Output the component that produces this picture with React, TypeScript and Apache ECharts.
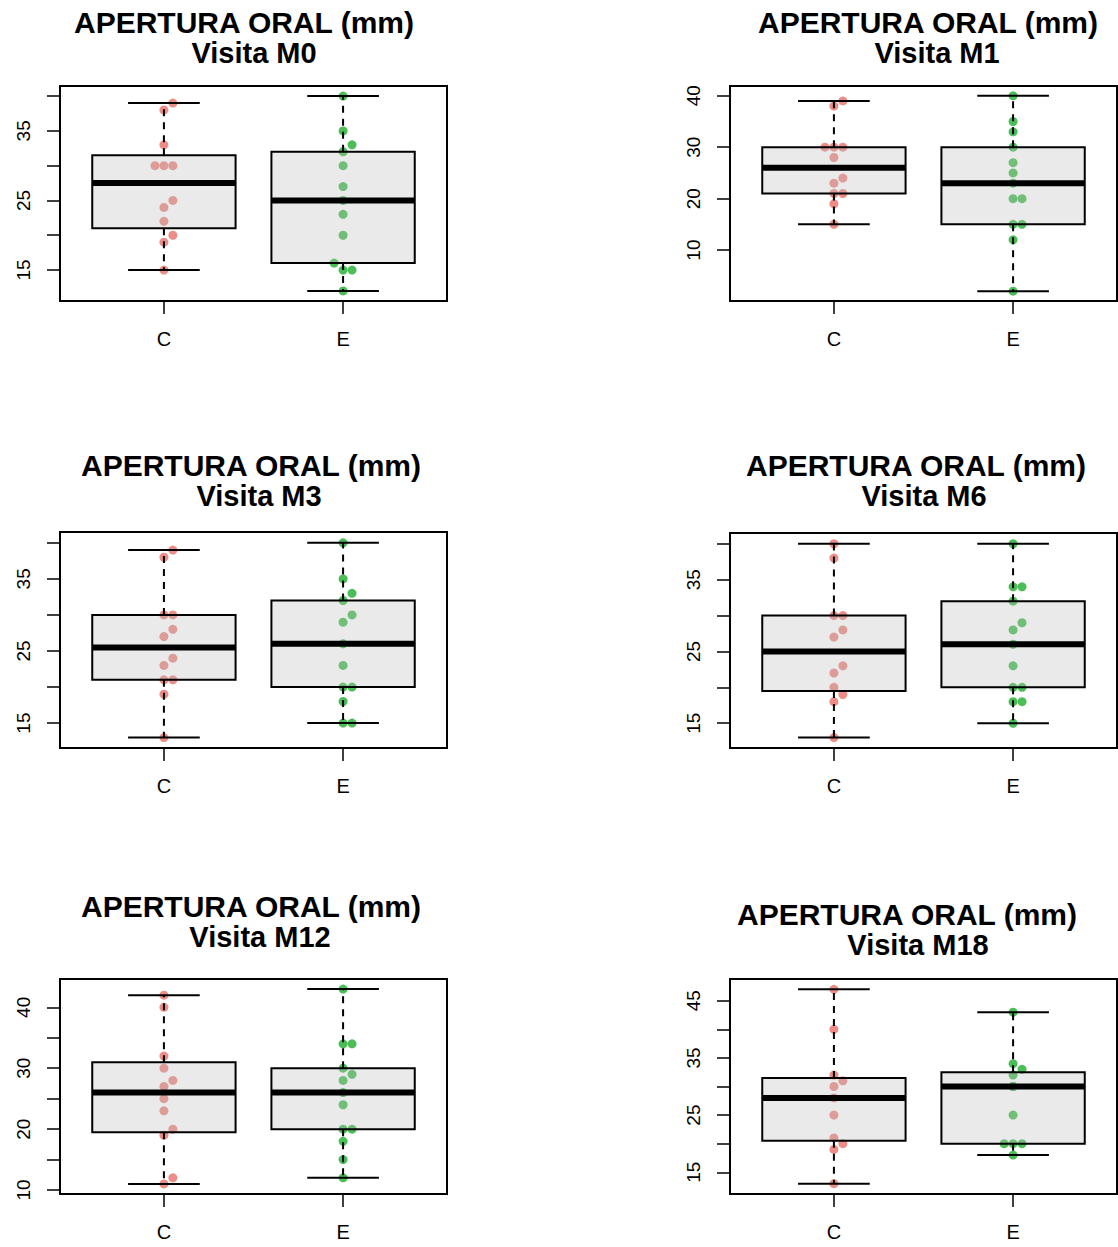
import React, { useEffect, useRef } from "react";
import * as echarts from "echarts";

// ---------- data ----------
const groups = ["C", "E"];
const visits = ["M0", "M1", "M3", "M6", "M12", "M18"];
const titleText = "APERTURA ORAL (mm)";

// individual observations (mm) and their jitter slot (-1, 0, 1)
const m0C = [39, 38, 33, 30, 30, 30, 25, 24, 22, 20, 19, 15];
const m0CJitter = [1, 0, 0, -1, 0, 1, 1, 0, 0, 1, 0, 0];
const m0E = [40, 35, 33, 32, 30, 27, 25, 23, 20, 16, 15, 15, 12];
const m0EJitter = [0, 0, 1, 0, 0, 0, 0, 0, 0, -1, 0, 1, 0];

const m1C = [39, 38, 30, 30, 30, 28, 24, 23, 21, 21, 19, 15];
const m1CJitter = [1, 0, -1, 0, 1, 0, 1, 0, 0, 1, 0, 0];
const m1E = [40, 35, 33, 30, 27, 25, 23, 20, 20, 15, 15, 12, 2];
const m1EJitter = [0, 0, 0, 0, 0, 0, 0, 0, 1, 0, 1, 0, 0];

const m3C = [39, 38, 30, 30, 28, 27, 24, 23, 21, 21, 19, 13];
const m3CJitter = [1, 0, 0, 1, 1, 0, 1, 0, 0, 1, 0, 0];
const m3E = [40, 35, 33, 32, 30, 29, 26, 23, 20, 20, 18, 15, 15];
const m3EJitter = [0, 0, 1, 0, 1, 0, 0, 0, 0, 1, 0, 0, 1];

const m6C = [40, 38, 30, 30, 28, 27, 23, 22, 20, 19, 18, 13];
const m6CJitter = [0, 0, 0, 1, 1, 0, 1, 0, 0, 1, 0, 0];
const m6E = [40, 34, 34, 32, 29, 28, 26, 23, 20, 20, 18, 18, 15];
const m6EJitter = [0, 0, 1, 0, 1, 0, 0, 0, 0, 1, 0, 1, 0];

const m12C = [42, 40, 32, 30, 28, 27, 25, 23, 20, 19, 12, 11];
const m12CJitter = [0, 0, 0, 0, 1, 0, 0, 0, 1, 0, 1, 0];
const m12E = [43, 34, 34, 30, 29, 28, 26, 24, 20, 20, 18, 15, 12];
const m12EJitter = [0, 0, 1, 0, 1, 0, 0, 0, 0, 1, 0, 0, 0];

const m18C = [47, 40, 32, 31, 30, 28, 25, 21, 20, 19, 13];
const m18CJitter = [0, 0, 0, 1, 0, 0, 0, 0, 1, 0, 0];
const m18E = [43, 34, 33, 32, 30, 30, 25, 20, 20, 20, 18];
const m18EJitter = [0, 0, 1, 0, 0, 0, 0, -1, 0, 1, 0];

// box statistics [lower whisker, Q1, median, Q3, upper whisker]
const m0BoxC = [15, 21, 27.5, 31.5, 39];
const m0BoxE = [12, 16, 25, 32, 40];
const m1BoxC = [15, 21, 26, 30, 39];
const m1BoxE = [2, 15, 23, 30, 40];
const m3BoxC = [13, 21, 25.5, 30, 39];
const m3BoxE = [15, 20, 26, 32, 40];
const m6BoxC = [13, 19.5, 25, 30, 40];
const m6BoxE = [15, 20, 26, 32, 40];
const m12BoxC = [11, 19.5, 26, 31, 42];
const m12BoxE = [12, 20, 26, 30, 43];
const m18BoxC = [13, 20.5, 28, 31.5, 47];
const m18BoxE = [18, 20, 30, 32.5, 43];

// y axis ranges, tick values and labelled ticks
const m0Range = [10.55, 41.45];
const m0Ticks = [15, 20, 25, 30, 35, 40];
const m0Labels = [15, 25, 35];
const m1Range = [0.1, 41.9];
const m1Ticks = [10, 20, 30, 40];
const m1Labels = [10, 20, 30, 40];
const m3Range = [11.55, 41.5];
const m3Ticks = [15, 20, 25, 30, 35, 40];
const m3Labels = [15, 25, 35];
const m6Range = [11.55, 41.5];
const m6Ticks = [15, 20, 25, 30, 35, 40];
const m6Labels = [15, 25, 35];
const m12Range = [9.35, 44.65];
const m12Ticks = [10, 15, 20, 25, 30, 35, 40];
const m12Labels = [10, 20, 30, 40];
const m18Range = [11.2, 48.8];
const m18Ticks = [15, 20, 25, 30, 35, 40, 45];
const m18Labels = [15, 25, 35, 45];

const panels = [
  { visit: visits[0], c: m0C, cj: m0CJitter, e: m0E, ej: m0EJitter, boxC: m0BoxC, boxE: m0BoxE, range: m0Range, ticks: m0Ticks, labels: m0Labels },
  { visit: visits[1], c: m1C, cj: m1CJitter, e: m1E, ej: m1EJitter, boxC: m1BoxC, boxE: m1BoxE, range: m1Range, ticks: m1Ticks, labels: m1Labels },
  { visit: visits[2], c: m3C, cj: m3CJitter, e: m3E, ej: m3EJitter, boxC: m3BoxC, boxE: m3BoxE, range: m3Range, ticks: m3Ticks, labels: m3Labels },
  { visit: visits[3], c: m6C, cj: m6CJitter, e: m6E, ej: m6EJitter, boxC: m6BoxC, boxE: m6BoxE, range: m6Range, ticks: m6Ticks, labels: m6Labels },
  { visit: visits[4], c: m12C, cj: m12CJitter, e: m12E, ej: m12EJitter, boxC: m12BoxC, boxE: m12BoxE, range: m12Range, ticks: m12Ticks, labels: m12Labels },
  { visit: visits[5], c: m18C, cj: m18CJitter, e: m18E, ej: m18EJitter, boxC: m18BoxC, boxE: m18BoxE, range: m18Range, ticks: m18Ticks, labels: m18Labels },
];

// ---------- layout / style ----------
const layout = [
  { left: 60, top: 86, height: 215, t1x: 244, t2x: 254, t1y: 22, t2y: 53 },
  { left: 730, top: 86, height: 215, t1x: 928, t2x: 937, t1y: 22, t2y: 53 },
  { left: 60, top: 532, height: 216, t1x: 251, t2x: 259, t1y: 465, t2y: 496 },
  { left: 730, top: 533, height: 215, t1x: 916, t2x: 924, t1y: 465, t2y: 496 },
  { left: 60, top: 979, height: 215, t1x: 251, t2x: 260, t1y: 906, t2y: 937 },
  { left: 730, top: 979, height: 215, t1x: 907, t2x: 918, t1y: 914, t2y: 945 },
];
const GRID_W = 387;
const JITTER_STEP = 0.05;
const FONT = '"Liberation Sans", Arial, Helvetica, sans-serif';
const COLOR_C = "#EA837D";
const COLOR_E = "#3DB84A";

function buildOption() {
  const grid: any[] = [];
  const xAxis: any[] = [];
  const yAxis: any[] = [];
  const series: any[] = [];
  const graphic: any[] = [];

  panels.forEach((p, i) => {
    const L = layout[i];
    grid.push({
      left: L.left,
      top: L.top,
      width: GRID_W,
      height: L.height,
      show: true,
      borderColor: "#000",
      borderWidth: 2,
      backgroundColor: "transparent",
    });
    xAxis.push({
      gridIndex: i,
      type: "value",
      min: 0.42,
      max: 2.58,
      splitLine: { show: false },
      axisLine: { show: false },
      axisTick: {
        show: true,
        customValues: [1, 2],
        length: 13,
        lineStyle: { color: "#000", width: 1.5 },
      },
      axisLabel: {
        customValues: [1, 2],
        formatter: (v: number) => groups[Math.round(v) - 1],
        fontSize: 20,
        fontFamily: FONT,
        color: "#000",
        margin: 28,
      },
    });
    yAxis.push({
      gridIndex: i,
      type: "value",
      min: p.range[0],
      max: p.range[1],
      splitLine: { show: false },
      axisLine: { show: false },
      axisTick: {
        show: true,
        customValues: p.ticks,
        length: 13,
        lineStyle: { color: "#000", width: 1.5 },
      },
      axisLabel: {
        customValues: p.labels,
        rotate: 90,
        fontSize: 19,
        fontFamily: FONT,
        color: "#000",
        margin: 27,
      },
    });

    series.push({
      type: "scatter",
      xAxisIndex: i,
      yAxisIndex: i,
      symbol: "circle",
      symbolSize: 9,
      z: 2,
      itemStyle: { color: COLOR_C, opacity: 0.92 },
      data: p.c.map((v, k) => [1 + p.cj[k] * JITTER_STEP, v]),
    });
    series.push({
      type: "scatter",
      xAxisIndex: i,
      yAxisIndex: i,
      symbol: "circle",
      symbolSize: 9,
      z: 2,
      itemStyle: { color: COLOR_E, opacity: 0.92 },
      data: p.e.map((v, k) => [2 + p.ej[k] * JITTER_STEP, v]),
    });
    series.push({
      type: "custom",
      xAxisIndex: i,
      yAxisIndex: i,
      z: 3,
      silent: true,
      encode: { x: 0, y: [1, 2, 3, 4, 5] },
      data: [
        [1, ...p.boxC],
        [2, ...p.boxE],
      ],
      renderItem: (params: any, api: any) => {
        const x = api.value(0);
        const low = api.value(1);
        const q1 = api.value(2);
        const med = api.value(3);
        const q3 = api.value(4);
        const high = api.value(5);
        const hw = 0.4;
        const cw = 0.2;
        const tl = api.coord([x - hw, q3]);
        const br = api.coord([x + hw, q1]);
        const mL = api.coord([x - hw, med]);
        const mR = api.coord([x + hw, med]);
        const pHigh = api.coord([x, high]);
        const pLow = api.coord([x, low]);
        const pQ3 = api.coord([x, q3]);
        const pQ1 = api.coord([x, q1]);
        const cHL = api.coord([x - cw, high]);
        const cHR = api.coord([x + cw, high]);
        const cLL = api.coord([x - cw, low]);
        const cLR = api.coord([x + cw, low]);
        const solid = { stroke: "#000", lineWidth: 2 };
        const dashed = { stroke: "#000", lineWidth: 2, lineDash: [7, 6] };
        return {
          type: "group",
          children: [
            {
              type: "line",
              shape: { x1: pQ3[0], y1: pQ3[1], x2: pHigh[0], y2: pHigh[1] },
              style: dashed,
            },
            {
              type: "line",
              shape: { x1: pQ1[0], y1: pQ1[1], x2: pLow[0], y2: pLow[1] },
              style: dashed,
            },
            {
              type: "line",
              shape: { x1: cHL[0], y1: cHL[1], x2: cHR[0], y2: cHR[1] },
              style: solid,
            },
            {
              type: "line",
              shape: { x1: cLL[0], y1: cLL[1], x2: cLR[0], y2: cLR[1] },
              style: solid,
            },
            {
              type: "rect",
              shape: { x: tl[0], y: tl[1], width: br[0] - tl[0], height: br[1] - tl[1] },
              style: { fill: "rgba(190,190,190,0.32)", stroke: "#000", lineWidth: 2 },
            },
            {
              type: "line",
              shape: { x1: mL[0], y1: mL[1], x2: mR[0], y2: mR[1] },
              style: { stroke: "#000", lineWidth: 6 },
            },
          ],
        };
      },
    });

    graphic.push({
      type: "text",
      x: L.t1x,
      y: L.t1y,
      style: {
        text: titleText,
        fontSize: 30,
        fontWeight: "bold",
        fontFamily: FONT,
        fill: "#000",
        textAlign: "center",
        textVerticalAlign: "middle",
      },
    });
    graphic.push({
      type: "text",
      x: L.t2x,
      y: L.t2y,
      style: {
        text: "Visita " + p.visit,
        fontSize: 29,
        fontWeight: "bold",
        fontFamily: FONT,
        fill: "#000",
        textAlign: "center",
        textVerticalAlign: "middle",
      },
    });
  });

  return {
    animation: false,
    backgroundColor: "#fff",
    grid,
    xAxis,
    yAxis,
    series,
    graphic,
  };
}

export default function App() {
  const ref = useRef<HTMLDivElement>(null);
  useEffect(() => {
    if (!ref.current) return;
    const chart = echarts.init(ref.current, undefined, { renderer: "svg" });
    chart.setOption(buildOption() as any);
    return () => chart.dispose();
  }, []);
  return (
    <div
      ref={ref}
      style={{ position: "fixed", left: 0, top: 0, width: 1118, height: 1247, background: "#fff" }}
    />
  );
}
